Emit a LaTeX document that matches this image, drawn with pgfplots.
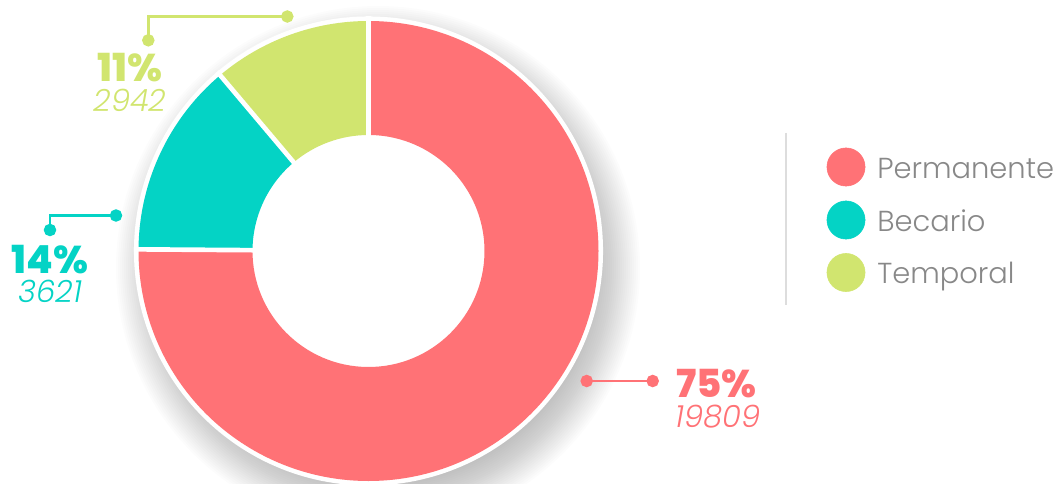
\documentclass[border=0pt]{standalone}
\usepackage{pgfplots}
\pgfplotsset{compat=1.18}
\usepackage{pgfplotstable}
\usepackage{fontspec}
\setmainfont{Poppins Light}
\newfontfamily\pctfont{Poppins ExtraBold}
\newfontfamily\numfont{Poppins Light Italic}
\newfontfamily\legfont{Poppins Light}
\definecolor{perm}{HTML}{FF7276}
\definecolor{bec}{HTML}{04D3C5}
\definecolor{temp}{HTML}{D1E56F}
\definecolor{legtext}{HTML}{888888}
\definecolor{sepgray}{HTML}{DDDDDD}

\pgfplotstableread{
label value
Permanente 19809
Becario 3621
Temporal 2942
}\datatable

\newcommand\donutslice[3]{%
  \fill[#1] (axis cs:368.5,232) ++(#2:172.5pt)
    arc[start angle=#2, end angle=#3, radius=172.5pt]
    -- ++(#3+180:85.5pt)
    arc[start angle=#3, end angle=#2, radius=87pt] -- cycle;}

\begin{document}%
\begin{tikzpicture}
\pgfplotstablegetelem{0}{value}\of\datatable\let\va\pgfplotsretval
\pgfplotstablegetelem{1}{value}\of\datatable\let\vb\pgfplotsretval
\pgfplotstablegetelem{2}{value}\of\datatable\let\vc\pgfplotsretval
\edef\aA{\fpeval{round(90-360*\va/(\va+\vb+\vc),4)}}
\edef\aB{\fpeval{round(\aA-360*\vb/(\va+\vb+\vc),4)}}
\edef\aC{\fpeval{round(\aB-360*\vc/(\va+\vb+\vc),4)}}
\begin{axis}[
  x=0.75pt, y=0.75pt,
  xmin=0, xmax=1060, ymin=0, ymax=483,
  hide axis, clip=false,
]
% soft shadow (stacked translucent discs)
\pgfplotsinvokeforeach{0,...,26}{%
  \fill[black, opacity=0.012] (axis cs:378,215) circle[radius={196.5pt-1.5pt*#1}];
}
% white ring
\fill[white] (axis cs:368.5,232) circle[radius=175.9pt];
% slices
\donutslice{perm}{90}{\aA}
\donutslice{bec}{\aA}{\aB}
\donutslice{temp}{\aB}{\aC}
% separators
\draw[white, line width=3.5pt] (axis cs:368.5,232) -- ++(90:176pt);
\draw[white, line width=3.5pt] (axis cs:368.5,232) -- ++(\aA:176pt);
\draw[white, line width=3.5pt] (axis cs:368.5,232) -- ++(\aB:176pt);

% leader lines
\addplot[perm, line width=1.9pt, mark=*, mark size=3.7pt, mark options={solid, fill=perm, draw=none}]
  coordinates {(586.7,102) (652.7,102)};
\addplot[bec, line width=1.9pt, mark=*, mark size=3.7pt, mark indices={1,3}, mark options={solid, fill=bec, draw=none}]
  coordinates {(50,253) (50,267.5) (116,267.5)};
\addplot[temp, line width=1.9pt, mark=*, mark size=3.7pt, mark indices={1,3}, mark options={solid, fill=temp, draw=none}]
  coordinates {(148.3,442.7) (148.3,466.5) (287.3,466.5)};

% labels
\node[anchor=base, inner sep=0, text=perm, font=\pctfont\fontsize{29}{30}\selectfont] at (axis cs:716.5,86) {75\%};
\node[anchor=base, inner sep=0, text=perm, font=\numfont\fontsize{23}{24}\selectfont] at (axis cs:718,56) {19809};
\node[anchor=base, inner sep=0, text=bec, font=\pctfont\fontsize{29}{30}\selectfont] at (axis cs:50,210) {14\%};
\node[anchor=base, inner sep=0, text=bec, font=\numfont\fontsize{23}{24}\selectfont] at (axis cs:50.5,181) {3621};
\node[anchor=base, inner sep=0, text=temp, font=\pctfont\fontsize{29}{30}\selectfont] at (axis cs:130,401.3) {11\%};
\node[anchor=base, inner sep=0, text=temp, font=\numfont\fontsize{23}{24}\selectfont] at (axis cs:130,371) {2942};

% legend
\addplot[sepgray, line width=1.1pt] coordinates {(786,350) (786,178)};
\addplot[perm, only marks, mark=*, mark size=14.3pt, mark options={fill=perm, draw=perm}] coordinates {(846,316)};
\addplot[bec, only marks, mark=*, mark size=14.3pt, mark options={fill=bec, draw=bec}] coordinates {(846,263)};
\addplot[temp, only marks, mark=*, mark size=14.3pt, mark options={fill=temp, draw=temp}] coordinates {(846,210.5)};
\node[anchor=base west, inner sep=0, text=legtext, font=\legfont\fontsize{21.7}{24}\selectfont] at (axis cs:877,305) {Permanente};
\node[anchor=base west, inner sep=0, text=legtext, font=\legfont\fontsize{21.7}{24}\selectfont] at (axis cs:877,252) {Becario};
\node[anchor=base west, inner sep=0, text=legtext, font=\legfont\fontsize{21.7}{24}\selectfont] at (axis cs:877,199.7) {Temporal};
\end{axis}
\pgfresetboundingbox
\useasboundingbox (current axis.south west) rectangle (current axis.north east);
\end{tikzpicture}%
\end{document}
